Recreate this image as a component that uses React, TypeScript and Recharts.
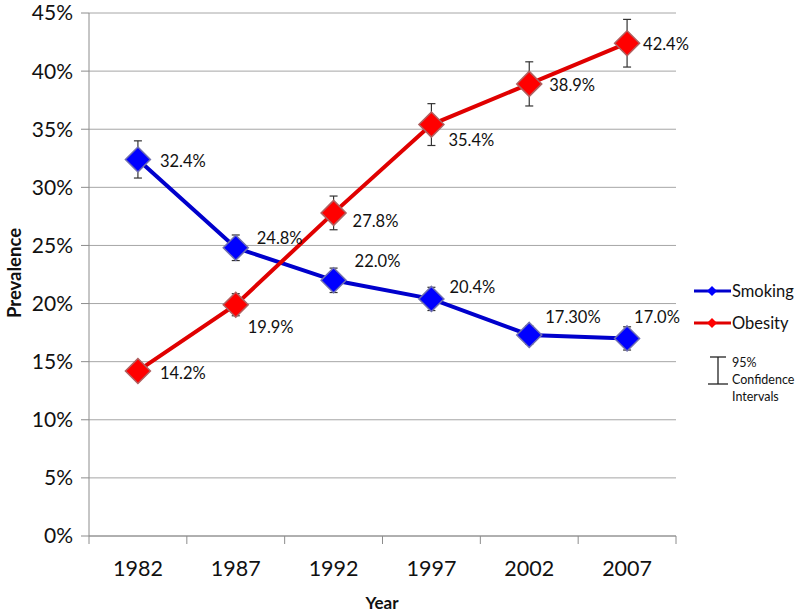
import React from 'react';
import { ComposedChart, Line, XAxis, YAxis, CartesianGrid, ErrorBar, LabelList, Label } from 'recharts';

const years = [1982, 1987, 1992, 1997, 2002, 2007];
const smoking = [32.4, 24.8, 22.0, 20.4, 17.3, 17.0];
const smokingCI = [1.6, 1.1, 1.05, 1.0, 0.8, 1.0];
const smokingLabels = ['32.4%', '24.8%', '22.0%', '20.4%', '17.30%', '17.0%'];
const obesity = [14.2, 19.9, 27.8, 35.4, 38.9, 42.4];
const obesityCI = [0.7, 0.95, 1.45, 1.8, 1.9, 2.05];
const obesityLabels = ['14.2%', '19.9%', '27.8%', '35.4%', '38.9%', '42.4%'];
const yTicks = [0, 5, 10, 15, 20, 25, 30, 35, 40, 45];

// label nudges (dx, dy) so the % labels sit where excel put them
const smokingNudge = [[22, 2], [21, -10], [21, -19], [18, -12], [16, -18], [7, -21]];
const obesityNudge = [[22, 2], [12, 22], [19, 8], [17, 15], [20, 1], [16, 1]];

const data = years.map((year, i) => ({
  year,
  smoking: smoking[i],
  smokingErr: smokingCI[i],
  obesity: obesity[i],
  obesityErr: obesityCI[i],
}));

// year labels at centres, tick marks at the boundaries between years
const xTicks = [years[0] - 2.5, ...years.flatMap(y => [y, y + 2.5])];

const FONT = 'Lato, "Open Sans", sans-serif';
const BLUE = '#0000cc';
const RED = '#e00000';

function YearTick(props: any) {
  const { x, y, payload } = props;
  if (years.includes(payload.value)) {
    return (
      <text x={x} y={y + 32} textAnchor="middle" dominantBaseline="central" fontSize={21.5} fill="#111" fontFamily={FONT}>
        {payload.value}
      </text>
    );
  }
  return <line x1={x} x2={x} y1={y} y2={y + 8} stroke="#8c8c8c" />;
}

function diamondDot(fill: string, stroke: string) {
  return (p: any) => {
    const { cx, cy, index } = p;
    const r = 12.5;
    return (
      <path
        key={index}
        d={`M${cx},${cy - r}L${cx + r},${cy}L${cx},${cy + r}L${cx - r},${cy}Z`}
        fill={fill}
        stroke={stroke}
        strokeWidth={1.5}
      />
    );
  };
}

function nudgedLabel(texts: string[], nudge: number[][]) {
  return (p: any) => {
    const { x, y, index } = p;
    const [dx, dy] = nudge[index];
    return (
      <text key={index} x={x + dx} y={y + dy} dominantBaseline="central" fontSize={16.5} fill="#111" fontFamily={FONT}>
        {texts[index]}
      </text>
    );
  };
}

function LegendBox() {
  return (
    <div style={{ position: 'absolute', left: 692, top: 279, width: 108, fontFamily: FONT, color: '#111' }}>
      {[
        { name: 'Smoking', color: BLUE, fill: '#0000ff' },
        { name: 'Obesity', color: RED, fill: '#ff0000' },
      ].map((s, i) => (
        <div key={s.name} style={{ display: 'flex', alignItems: 'center', height: 24, marginBottom: i === 0 ? 8 : 0 }}>
          <svg width={40} height={14}>
            <line x1={2} x2={39} y1={7} y2={7} stroke={s.color} strokeWidth={3} />
            <path d="M20,2L25,7L20,12L15,7Z" fill={s.fill} />
          </svg>
          <span style={{ fontSize: 16.5 }}>{s.name}</span>
        </div>
      ))}
      <div style={{ display: 'flex', marginTop: 18 }}>
        <svg width={40} height={34}>
          <line x1={26} x2={26} y1={4} y2={31} stroke="#222" strokeWidth={1.3} />
          <line x1={18} x2={34} y1={4} y2={4} stroke="#222" strokeWidth={1.3} />
          <line x1={16} x2={36} y1={31} y2={31} stroke="#222" strokeWidth={1.3} />
        </svg>
        <div style={{ fontSize: 12.5, lineHeight: '17px', marginTop: 1 }}>
          95%<br />Confidence<br />Intervals
        </div>
      </div>
    </div>
  );
}

export default function App() {
  return (
    <div style={{ position: 'absolute', left: 0, top: 0, width: 800, height: 612, background: '#fff', fontFamily: FONT }}>
      <ComposedChart
        width={800}
        height={612}
        data={data}
        margin={{ top: 13, right: 124, bottom: 0, left: 0 }}
        style={{ overflow: 'visible' }}
      >
        <CartesianGrid vertical={false} stroke="#a6a6a6" />
        <XAxis
          dataKey="year"
          type="number"
          domain={[years[0] - 2.5, years[years.length - 1] + 2.5]}
          ticks={xTicks}
          interval={0}
          tick={<YearTick />}
          tickLine={false}
          tickSize={0}
          tickMargin={0}
          height={76}
          stroke="#8c8c8c"
        >
          <Label
            content={() => (
              <text x={382} y={602} textAnchor="middle" dominantBaseline="central" fontSize={17} fontWeight="bold" fill="#111" fontFamily={FONT}>
                Year
              </text>
            )}
          />
        </XAxis>
        <YAxis
          domain={[0, 45]}
          ticks={yTicks}
          tickFormatter={v => `${v}%`}
          width={89}
          tickSize={8}
          tickMargin={8}
          stroke="#8c8c8c"
          tick={{ fontSize: 21, fill: '#111', fontFamily: FONT }}
        >
          <Label
            content={() => (
              <text transform="translate(14,273) rotate(-90)" textAnchor="middle" dominantBaseline="central" fontSize={18.5} fontWeight="bold" fill="#111" fontFamily={FONT}>
                Prevalence
              </text>
            )}
          />
        </YAxis>
        <Line
          dataKey="smoking"
          stroke={BLUE}
          strokeWidth={4}
          dot={diamondDot('#0000ff', '#7070b0')}
          activeDot={false}
          isAnimationActive={false}
        >
          <ErrorBar dataKey="smokingErr" direction="y" width={4} stroke="#333" strokeWidth={1.2} />
          <LabelList dataKey="smoking" content={nudgedLabel(smokingLabels, smokingNudge)} />
        </Line>
        <Line
          dataKey="obesity"
          stroke={RED}
          strokeWidth={4}
          dot={diamondDot('#ff0000', '#b06060')}
          activeDot={false}
          isAnimationActive={false}
        >
          <ErrorBar dataKey="obesityErr" direction="y" width={4} stroke="#333" strokeWidth={1.2} />
          <LabelList dataKey="obesity" content={nudgedLabel(obesityLabels, obesityNudge)} />
        </Line>
      </ComposedChart>
      <LegendBox />
    </div>
  );
}
